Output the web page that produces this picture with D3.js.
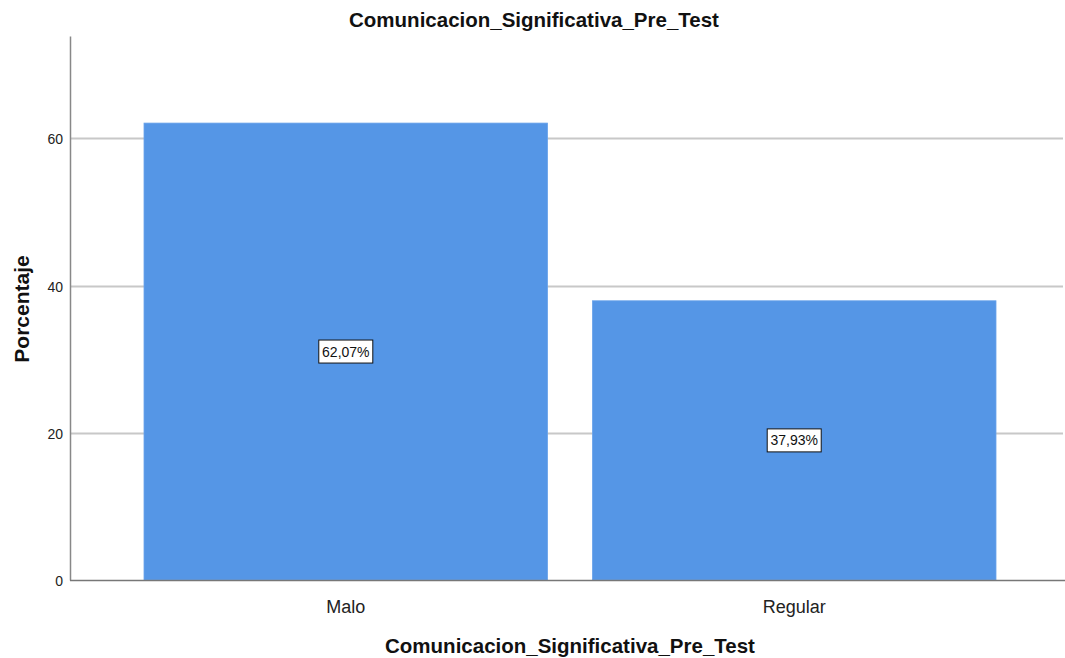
<!DOCTYPE html>
<html><head><meta charset="utf-8">
<script src="https://cdn.jsdelivr.net/npm/d3@7"></script>
<style>body{margin:0;background:#fff}svg{display:block;font-family:"Liberation Sans",Arial,sans-serif}</style>
</head><body><svg id="c" width="1065" height="658"></svg>
<script>
const categories = ["Malo", "Regular"];
const values = [62.07, 37.93];
const valueLabels = ["62,07%", "37,93%"];
const yTicks = [0, 20, 40, 60];
const title = "Comunicacion_Significativa_Pre_Test";
const xTitle = "Comunicacion_Significativa_Pre_Test";
const yTitle = "Porcentaje";

(function () {
const svg = d3.select("#c");
const mLeft = 70, mRight = 1065, mTop = 36, mBottom = 580;
const y = d3.scaleLinear().domain([0, 73.9]).range([mBottom, mTop]);
const x = d3.scaleBand().domain(categories).range([mLeft + 74, mRight - 69]).paddingInner(0.1).paddingOuter(0);

// gridlines
svg.append("g").selectAll("line").data(yTicks.filter(d => d > 0)).join("line")
  .attr("x1", mLeft).attr("x2", mRight - 2)
  .attr("y1", d => Math.round(y(d)) + 0.5).attr("y2", d => Math.round(y(d)) + 0.5)
  .attr("stroke", "#c8c8c8").attr("stroke-width", 2);

// bars
svg.append("g").selectAll("rect").data(categories).join("rect")
  .attr("x", d => x(d)).attr("width", x.bandwidth())
  .attr("y", (d, i) => y(values[i])).attr("height", (d, i) => mBottom - y(values[i]))
  .attr("fill", "#5596e6").attr("stroke", "#6aa3ea").attr("stroke-width", 0.8);

// axes
const yAxis = d3.axisLeft(y).tickValues(yTicks).tickSize(0).tickPadding(7);
const gy = svg.append("g").attr("transform", `translate(${mLeft},0)`).call(yAxis);
gy.select(".domain").attr("stroke", "#888").attr("stroke-width", 1.5);
gy.selectAll("text").attr("font-size", 14).attr("fill", "#222").attr("dy", "0.4em").attr("font-family", "Liberation Sans, Arial, sans-serif");

const xAxis = d3.axisBottom(x).tickSize(0).tickPadding(20);
const gx = svg.append("g").attr("transform", `translate(0,${mBottom})`).call(xAxis);
gx.select(".domain").attr("d", `M${mLeft},0.5H${mRight}`).attr("stroke", "#777").attr("stroke-width", 1.5);
gx.selectAll("text").attr("font-size", 18).attr("fill", "#222").attr("font-family", "Liberation Sans, Arial, sans-serif");

// value labels
const lab = svg.append("g").selectAll("g").data(categories).join("g")
  .attr("transform", (d, i) => `translate(${x(d) + x.bandwidth() / 2},${y(values[i] / 2)})`);
lab.append("rect").attr("x", -27).attr("y", -11.5).attr("width", 54).attr("height", 23)
  .attr("fill", "#fff").attr("stroke", "#111").attr("stroke-width", 1);
lab.append("text").attr("text-anchor", "middle").attr("dy", "0.36em")
  .attr("font-size", 14).attr("fill", "#111").text((d, i) => valueLabels[i]);

// titles
svg.append("text").attr("x", 534).attr("y", 27).attr("text-anchor", "middle")
  .attr("font-size", 20.5).attr("font-weight", "bold").attr("fill", "#111").text(title);
svg.append("text").attr("x", 570).attr("y", 653).attr("text-anchor", "middle")
  .attr("font-size", 20.5).attr("font-weight", "bold").attr("fill", "#111").text(xTitle);
svg.append("text").attr("transform", "translate(29,309) rotate(-90)").attr("text-anchor", "middle")
  .attr("font-size", 21).attr("font-weight", "bold").attr("fill", "#111").text(yTitle);
})();
</script></body></html>
